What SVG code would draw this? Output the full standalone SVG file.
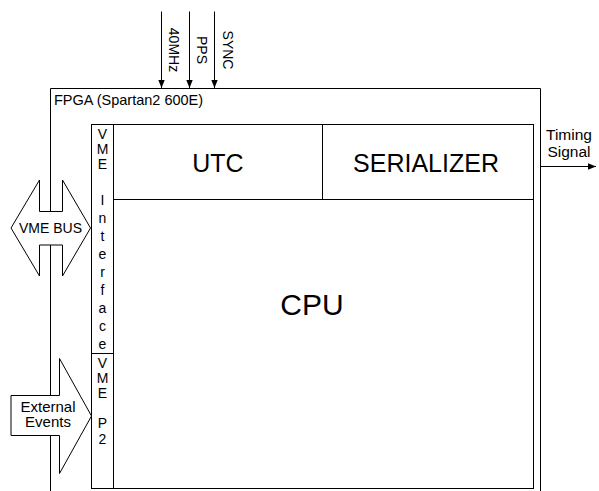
<svg xmlns="http://www.w3.org/2000/svg" width="599" height="491" viewBox="0 0 599 491">
<style>
.ln{fill:none;stroke:#000;stroke-width:1}
.bx{fill:#fff;stroke:#000;stroke-width:1}
.t{font-family:"Liberation Sans",Arial,sans-serif;fill:#000}
.c{text-anchor:middle}
</style>
<defs>
<marker id="ah" viewBox="0 0 10 10" refX="10" refY="5" markerWidth="8" markerHeight="8" markerUnits="userSpaceOnUse" orient="auto">
<path d="M0,1 L10,5 L0,9 Z" fill="#000"/>
</marker>
</defs>
<rect width="599" height="491" fill="#fff"/>
<g id="fpga">
<path class="ln" d="M50.5,491 V88.5 H540.5 V491"/>
<text class="t" x="54" y="105" font-size="14.5">FPGA (Spartan2 600E)</text>
</g>
<g id="cpu">
<rect class="bx" x="91.5" y="124.5" width="442" height="364"/>
<text class="t c" x="312" y="315" font-size="30">CPU</text>
</g>
<g id="utc">
<rect class="bx" x="113.5" y="124.5" width="209" height="75"/>
<text class="t c" x="218" y="171.5" font-size="25">UTC</text>
</g>
<g id="serializer">
<rect class="bx" x="322.5" y="124.5" width="211" height="75"/>
<text class="t c" x="426" y="171.5" font-size="25">SERIALIZER</text>
</g>
<g id="vme-interface">
<rect class="bx" x="91.5" y="124.5" width="22" height="229"/>
<g class="t c" font-size="14">
<text x="102.5" y="138.5">V</text>
<text x="102.5" y="153.5">M</text>
<text x="102.5" y="168.5">E</text>
<text x="102.5" y="205">I</text>
<text x="102.5" y="223">n</text>
<text x="102.5" y="241">t</text>
<text x="102.5" y="259">e</text>
<text x="102.5" y="277">r</text>
<text x="102.5" y="295">f</text>
<text x="102.5" y="313">a</text>
<text x="102.5" y="331">c</text>
<text x="102.5" y="349">e</text>
</g>
</g>
<g id="vme-p2">
<rect class="bx" x="91.5" y="353.5" width="22" height="135"/>
<g class="t c" font-size="14">
<text x="102.5" y="367.5">V</text>
<text x="102.5" y="382.5">M</text>
<text x="102.5" y="397.5">E</text>
<text x="102.5" y="428">P</text>
<text x="102.5" y="443.5">2</text>
</g>
</g>
<g id="vme-bus">
<path class="bx" d="M11,228 L39.5,180 V211.5 H62.5 V180 L90.5,228 L62.5,276 V245 H39.5 V276 Z"/>
<text class="t c" x="50.5" y="232.5" font-size="14">VME BUS</text>
</g>
<g id="external-events">
<path class="bx" d="M11,395.5 H59.5 V358.5 L91.5,416 L59.5,473.5 V435.5 H11 Z"/>
<text class="t c" x="48" y="411.5" font-size="15">External</text>
<text class="t c" x="48" y="427" font-size="15">Events</text>
</g>
<g id="connectors">
<line class="ln" x1="161.5" y1="11.5" x2="161.5" y2="88" marker-end="url(#ah)"/>
<line class="ln" x1="189.5" y1="11.5" x2="189.5" y2="88" marker-end="url(#ah)"/>
<line class="ln" x1="214.5" y1="11.5" x2="214.5" y2="88" marker-end="url(#ah)"/>
<line class="ln" x1="540.5" y1="166.5" x2="596" y2="166.5" marker-end="url(#ah)"/>
<text class="t c" font-size="14" transform="translate(169,50) rotate(90)">40MHz</text>
<text class="t c" font-size="14" transform="translate(196.5,50) rotate(90)">PPS</text>
<text class="t c" font-size="14" transform="translate(223,50) rotate(90)">SYNC</text>
<text class="t c" x="569" y="140" font-size="15.5">Timing</text>
<text class="t c" x="569" y="156.5" font-size="15.5">Signal</text>
</g>
</svg>
